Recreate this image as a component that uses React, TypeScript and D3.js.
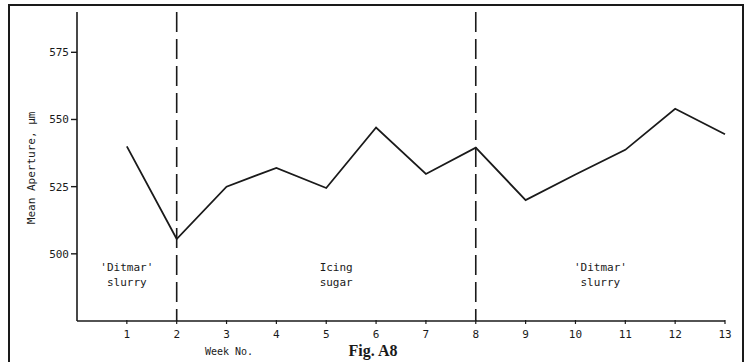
import * as d3 from "d3";
import React, { useEffect, useRef } from "react";

const weeks = [1, 2, 3, 4, 5, 6, 7, 8, 9, 10, 11, 12, 13];
const aperture = [540, 505.5, 525, 532, 524.5, 547, 529.7, 539.5, 520, 529.5, 538.7, 554, 544.5];
const yTicks = [500, 525, 550, 575];
const changeWeeks = [2, 8];
const periods = [
  { week: 1, lines: ["'Ditmar'", "slurry"] },
  { week: 5.2, lines: ["Icing", "sugar"] },
  { week: 10.5, lines: ["'Ditmar'", "slurry"] },
];

const W = 750;
const H = 362;
const mono = "'DejaVu Sans Mono', 'Liberation Mono', monospace";

export default function App() {
  const svgRef = useRef<SVGSVGElement | null>(null);

  useEffect(() => {
    const svg = d3.select(svgRef.current);
    svg.selectAll("*").remove();

    const x = d3.scaleLinear().domain([0, 13]).range([77, 725]);
    const y = d3.scaleLinear().domain([475, 590]).range([321, 12]);
    const ink = "#1a1a1a";

    // outer frame (bottom edge runs off the page)
    svg
      .append("rect")
      .attr("x", 9)
      .attr("y", 5)
      .attr("width", 734)
      .attr("height", 380)
      .attr("fill", "none")
      .attr("stroke", ink)
      .attr("stroke-width", 2);

    // y axis
    svg
      .append("line")
      .attr("x1", x(0))
      .attr("x2", x(0))
      .attr("y1", y(590))
      .attr("y2", y(475))
      .attr("stroke", ink)
      .attr("stroke-width", 1.6);

    const yt = svg.append("g").selectAll("g").data(yTicks).enter().append("g");
    yt.append("line")
      .attr("x1", x(0) - 6)
      .attr("x2", x(0))
      .attr("y1", (d) => y(d))
      .attr("y2", (d) => y(d))
      .attr("stroke", ink)
      .attr("stroke-width", 1.4);
    yt.append("text")
      .attr("x", x(0) - 8)
      .attr("y", (d) => y(d))
      .attr("dy", "0.35em")
      .attr("text-anchor", "end")
      .attr("font-family", mono)
      .attr("font-size", 11)
      .attr("fill", ink)
      .text((d) => d);

    svg
      .append("text")
      .attr("transform", `translate(31,${y(532)}) rotate(-90)`)
      .attr("text-anchor", "middle")
      .attr("dy", "0.35em")
      .attr("font-family", mono)
      .attr("font-size", 11)
      .attr("fill", ink)
      .text("Mean Aperture, \u03bcm");

    // x axis
    svg
      .append("line")
      .attr("x1", x(0))
      .attr("x2", x(13))
      .attr("y1", y(475))
      .attr("y2", y(475))
      .attr("stroke", ink)
      .attr("stroke-width", 1.6);

    const xt = svg.append("g").selectAll("g").data(weeks).enter().append("g");
    xt.append("line")
      .attr("x1", (d) => x(d))
      .attr("x2", (d) => x(d))
      .attr("y1", y(475) - 1)
      .attr("y2", y(475) + 3)
      .attr("stroke", ink)
      .attr("stroke-width", 1.2);
    xt.append("text")
      .attr("x", (d) => x(d))
      .attr("y", 338)
      .attr("text-anchor", "middle")
      .attr("font-family", mono)
      .attr("font-size", 11)
      .attr("fill", ink)
      .text((d) => d);

    svg
      .append("text")
      .attr("x", 229)
      .attr("y", 355)
      .attr("text-anchor", "middle")
      .attr("font-family", mono)
      .attr("font-size", 10)
      .attr("fill", ink)
      .text("Week No.");

    svg
      .append("text")
      .attr("x", 373)
      .attr("y", 356)
      .attr("text-anchor", "middle")
      .attr("font-family", "'Liberation Serif', 'DejaVu Serif', serif")
      .attr("font-weight", "bold")
      .attr("font-size", 16)
      .attr("fill", ink)
      .text("Fig. A8");

    // treatment change lines
    svg
      .append("g")
      .selectAll("line")
      .data(changeWeeks)
      .enter()
      .append("line")
      .attr("x1", (d) => x(d))
      .attr("x2", (d) => x(d))
      .attr("y1", y(590))
      .attr("y2", y(475))
      .attr("stroke", ink)
      .attr("stroke-width", 1.6)
      .attr("stroke-dasharray", "20,7");

    // period labels
    const pl = svg.append("g").selectAll("text").data(periods).enter().append("text")
      .attr("x", (d) => x(d.week))
      .attr("y", 271)
      .attr("text-anchor", "middle")
      .attr("font-family", mono)
      .attr("font-size", 11)
      .attr("fill", ink);
    pl.selectAll("tspan")
      .data((d) => d.lines)
      .enter()
      .append("tspan")
      .attr("x", function () {
        return (this.parentNode as SVGTextElement).getAttribute("x");
      })
      .attr("dy", (d, i) => (i === 0 ? 0 : 15))
      .text((d) => d);

    // data line
    const line = d3
      .line<number>()
      .x((d, i) => x(weeks[i]))
      .y((d) => y(d));
    svg
      .append("path")
      .datum(aperture)
      .attr("d", line)
      .attr("fill", "none")
      .attr("stroke", ink)
      .attr("stroke-width", 1.8)
      .attr("stroke-linejoin", "miter");
  }, []);

  return (
    <svg
      ref={svgRef}
      width={W}
      height={H}
      style={{ position: "absolute", left: 0, top: 0, background: "#fff" }}
    />
  );
}
